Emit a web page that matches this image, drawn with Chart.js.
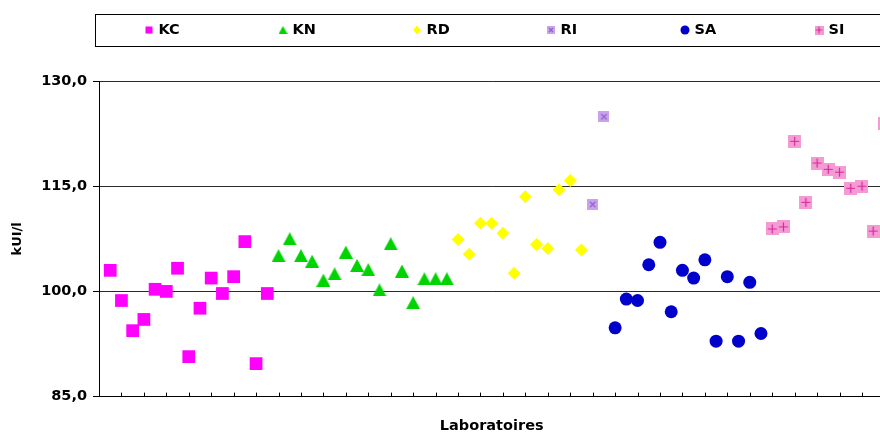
<!DOCTYPE html>
<html>
<head>
<meta charset="utf-8">
<script src="https://cdn.jsdelivr.net/npm/chart.js@4/dist/chart.umd.min.js"></script>
<style>
  html, body { margin: 0; padding: 0; background: #ffffff; overflow: hidden; }
  #wrap { position: relative; width: 900px; height: 435px; }
</style>
</head>
<body>
<div id="wrap"><canvas id="chart" width="900" height="435"></canvas></div>
<script>
// Laboratory numbers (x) and measured values (kUI/l) per method group
const labsKC = [1, 2, 3, 4, 5, 6, 7, 8, 9, 10, 11, 12, 13, 14, 15];
const valuesKC = [103.0, 98.7, 94.4, 96.0, 100.3, 100.0, 103.3, 90.7, 97.6, 101.9, 99.7, 102.1, 107.1, 89.7, 99.7];

const labsKN = [16, 17, 18, 19, 20, 21, 22, 23, 24, 25, 26, 27, 28, 29, 30, 31];
const valuesKN = [105.1, 107.5, 105.1, 104.3, 101.6, 102.5, 105.6, 103.7, 103.1, 100.2, 106.8, 102.9, 98.4, 101.8, 101.8, 101.8];

const labsRD = [32, 33, 34, 35, 36, 37, 38, 39, 40, 41, 42, 43];
const valuesRD = [107.4, 105.3, 109.7, 109.7, 108.3, 102.6, 113.5, 106.7, 106.1, 114.5, 115.8, 105.9];

const labsRI = [44, 45];
const valuesRI = [112.4, 124.9];

const labsSA = [46, 47, 48, 49, 50, 51, 52, 53, 54, 55, 56, 57, 58, 59];
const valuesSA = [94.8, 98.9, 98.7, 103.8, 107.0, 97.1, 103.0, 101.9, 104.5, 92.9, 102.1, 92.9, 101.3, 94.0];

const labsSI = [60, 61, 62, 63, 64, 65, 66, 67, 68, 69, 70];
const valuesSI = [108.9, 109.2, 121.4, 112.7, 118.3, 117.4, 117.0, 114.7, 115.0, 108.6, 124.0];

const groupNames = ['KC', 'KN', 'RD', 'RI', 'SA', 'SI'];
const yTicks = [85, 100, 115, 130];

const FONT = 'DejaVu Sans';

function makeMarker(w, h, draw) {
  const c = document.createElement('canvas');
  c.width = w; c.height = h;
  draw(c.getContext('2d'), w, h);
  return c;
}
function triangle(w, h) {
  return makeMarker(w, h, (ctx) => {
    ctx.fillStyle = '#00D400';
    ctx.beginPath();
    ctx.moveTo(w / 2, 0);
    ctx.lineTo(w, h);
    ctx.lineTo(0, h);
    ctx.closePath();
    ctx.fill();
  });
}
function crossBox(s) {
  return makeMarker(s, s, (ctx) => {
    ctx.fillStyle = '#C9A3EE';
    ctx.fillRect(0, 0, s, s);
    ctx.strokeStyle = '#9460C8';
    ctx.lineWidth = 1.2;
    const m = s * 0.25;
    ctx.beginPath();
    ctx.moveTo(m, m); ctx.lineTo(s - m, s - m);
    ctx.moveTo(s - m, m); ctx.lineTo(m, s - m);
    ctx.stroke();
  });
}
function plusBox(s) {
  return makeMarker(s, s, (ctx) => {
    ctx.fillStyle = '#F49BD4';
    ctx.fillRect(0, 0, s, s);
    ctx.strokeStyle = '#D8289C';
    ctx.lineWidth = 1.2;
    const m = s * 0.15;
    ctx.beginPath();
    ctx.moveTo(s / 2, m); ctx.lineTo(s / 2, s - m);
    ctx.moveTo(m, s / 2); ctx.lineTo(s - m, s / 2);
    ctx.stroke();
  });
}

const pts = (xs, ys) => xs.map((x, i) => ({ x: x, y: ys[i] }));

const datasets = [
  { label: groupNames[0], data: pts(labsKC, valuesKC), pointStyle: 'rect', pointRadius: 9,
    backgroundColor: '#FF00FF', borderColor: '#FF00FF', borderWidth: 0 },
  { label: groupNames[1], data: pts(labsKN, valuesKN), pointStyle: triangle(14, 13), pointRadius: 7,
    backgroundColor: '#00D400', borderColor: '#00D400', borderWidth: 0 },
  { label: groupNames[2], data: pts(labsRD, valuesRD), pointStyle: 'rectRot', pointRadius: 6.5,
    backgroundColor: '#FFFF00', borderColor: '#FFFF00', borderWidth: 0 },
  { label: groupNames[3], data: pts(labsRI, valuesRI), pointStyle: crossBox(11), pointRadius: 6,
    backgroundColor: '#C9A3EE', borderColor: '#9460C8', borderWidth: 0 },
  { label: groupNames[4], data: pts(labsSA, valuesSA), pointStyle: 'circle', pointRadius: 6.5,
    backgroundColor: '#0000CC', borderColor: '#0000CC', borderWidth: 0 },
  { label: groupNames[5], data: pts(labsSI, valuesSI), pointStyle: plusBox(13), pointRadius: 7,
    backgroundColor: '#F49BD4', borderColor: '#D8289C', borderWidth: 0 }
];
datasets.forEach(d => { d.clip = false; d.pointHoverRadius = d.pointRadius; });

// Legend markers drawn inside the framed legend strip
const legendMarkers = [
  (ctx, x, y) => { ctx.fillStyle = '#FF00FF'; ctx.fillRect(x - 3.5, y - 3.5, 7, 7); },
  (ctx, x, y) => { ctx.drawImage(triangle(9, 8), x - 4.5, y - 4); },
  (ctx, x, y) => { ctx.fillStyle = '#FFFF00'; ctx.beginPath(); ctx.moveTo(x, y - 4.5); ctx.lineTo(x + 4, y); ctx.lineTo(x, y + 4.5); ctx.lineTo(x - 4, y); ctx.closePath(); ctx.fill(); },
  (ctx, x, y) => { ctx.drawImage(crossBox(8), x - 4, y - 4); },
  (ctx, x, y) => { ctx.fillStyle = '#0000CC'; ctx.beginPath(); ctx.arc(x, y, 4.5, 0, Math.PI * 2); ctx.fill(); },
  (ctx, x, y) => { ctx.drawImage(plusBox(9), x - 4.5, y - 4.5); }
];

const framedLegend = {
  id: 'framedLegend',
  afterDraw(chart) {
    const ctx = chart.ctx;
    ctx.save();
    ctx.strokeStyle = '#000000';
    ctx.lineWidth = 1;
    ctx.strokeRect(95.5, 14.5, 820, 32);
    ctx.font = 'bold 14.5px "' + FONT + '"';
    ctx.textBaseline = 'middle';
    chart.data.datasets.forEach((ds, i) => {
      const cx = 149 + i * 134;
      legendMarkers[i](ctx, cx, 30);
      ctx.fillStyle = '#000000';
      ctx.fillText(ds.label, cx + 9.5, 30.5);
    });
    ctx.restore();
  }
};

// Short tick marks pointing up into the plot from the category axis
const innerTicks = {
  id: 'innerTicks',
  afterDraw(chart) {
    const xs = chart.scales.x;
    const ctx = chart.ctx;
    const bottom = chart.chartArea.bottom;
    ctx.save();
    ctx.strokeStyle = '#000000';
    ctx.lineWidth = 1;
    ctx.beginPath();
    xs.ticks.forEach(t => {
      const px = Math.round(xs.getPixelForValue(t.value)) + 0.5;
      ctx.moveTo(px, bottom);
      ctx.lineTo(px, bottom - 4);
    });
    ctx.stroke();
    ctx.restore();
  }
};

new Chart(document.getElementById('chart'), {
  type: 'scatter',
  data: { datasets: datasets },
  plugins: [framedLegend, innerTicks],
  options: {
    responsive: false,
    animation: false,
    events: [],
    layout: { padding: { top: 81, right: 15.6, bottom: 0, left: 0 } },
    plugins: { legend: { display: false }, tooltip: { enabled: false } },
    scales: {
      x: {
        type: 'linear',
        min: 0,
        max: 70,
        ticks: { display: false, stepSize: 2 },
        grid: { display: true, drawOnChartArea: false, drawTicks: false },
        border: { display: true, color: '#000000', width: 1 },
        title: {
          display: true,
          text: 'Laboratoires',
          color: '#000000',
          font: { family: FONT, size: 14.5, weight: 'bold' },
          padding: { top: 21, bottom: 0 }
        }
      },
      y: {
        min: 85,
        max: 130,
        afterBuildTicks(scale) { scale.ticks = yTicks.map(v => ({ value: v })); },
        afterFit(scale) { scale.width = 99; },
        ticks: {
          color: '#000000',
          padding: 6,
          font: { family: FONT, size: 14.5, weight: 'bold' },
          callback: v => v.toFixed(1).replace('.', ',')
        },
        grid: { color: '#2a2a2a', lineWidth: 1, tickLength: 6, tickColor: '#000000' },
        border: { display: true, color: '#000000', width: 1 },
        title: {
          display: true,
          text: 'kUI/l',
          color: '#000000',
          font: { family: FONT, size: 13, weight: 'bold' },
          padding: { top: 10, bottom: 0 }
        }
      }
    }
  }
});
</script>
</body>
</html>
